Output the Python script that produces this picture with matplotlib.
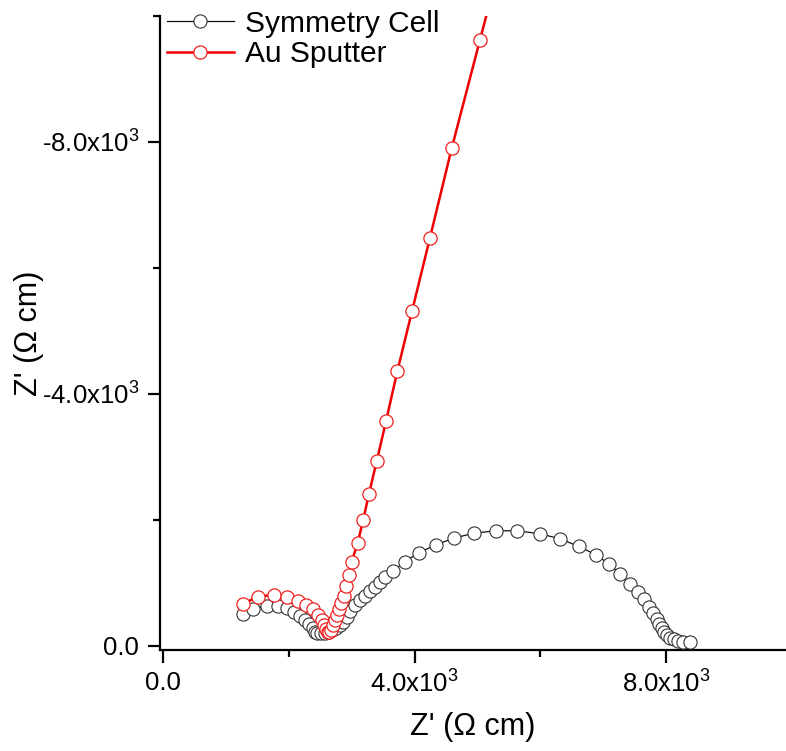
import matplotlib
matplotlib.use("Agg")
import matplotlib.pyplot as plt
from matplotlib.ticker import MultipleLocator, FuncFormatter

plt.rcParams['font.family'] = ['Liberation Sans', 'DejaVu Sans']
plt.rcParams['mathtext.fontset'] = 'custom'
plt.rcParams['mathtext.rm'] = 'Liberation Sans'
plt.rcParams['mathtext.it'] = 'Liberation Sans'

# Symmetry Cell: Z' (ohm cm) and Z'' (ohm cm, negative)
sym_zre = [1267, 1436, 1648, 1833, 1976, 2088, 2178, 2262, 2326, 2380, 2417, 2453,
           2510, 2570, 2630, 2690, 2750, 2810, 2866, 2920, 2973, 3052, 3132, 3211,
           3291, 3370, 3450, 3529, 3662, 3847, 4075, 4340, 4626, 4944, 5294, 5633,
           5994, 6312, 6614, 6884, 7096, 7266, 7424, 7546, 7652, 7732, 7795, 7849,
           7891, 7933, 7970, 8008, 8060, 8124, 8192, 8272, 8378]
sym_zim = [-504, -583, -641, -636, -599, -545, -482, -413, -350, -281, -228, -212,
           -205, -210, -228, -255, -290, -330, -380, -466, -561, -652, -731, -795,
           -879, -943, -1022, -1102, -1192, -1340, -1483, -1606, -1712, -1791, -1828, -1828,
           -1781, -1701, -1579, -1447, -1298, -1145, -986, -864, -742, -625, -519, -424,
           -350, -281, -228, -175, -132, -107, -84, -68, -59]

# Au Sputter
au_zre = [1267, 1515, 1765, 1976, 2141, 2273, 2390, 2469, 2523, 2560, 2591, 2628,
          2640, 2670, 2700, 2730, 2765, 2800, 2835, 2875, 2915, 2962, 3000, 3095,
          3180, 3275, 3397, 3545, 3725, 3959, 4245, 4589, 5040, 5560]
au_zim = [-668, -784, -811, -784, -720, -652, -583, -493, -413, -334, -265, -228,
          -215, -260, -330, -410, -495, -585, -685, -800, -950, -1129, -1340, -1633,
          -1992, -2417, -2930, -3566, -4361, -5315, -6482, -7897, -9623, -11600]

series_labels = ["Symmetry Cell", "Au Sputter"]
axis_label = "Z' (\u03a9 cm)"

fig = plt.figure(figsize=(7.86, 7.51), dpi=100)
ax = fig.add_axes([160/786, 1 - 650/751, 1 - 160/786, (650 - 16)/751])

ax.plot(sym_zre, sym_zim, color='#111111', lw=0.9, marker='o', ms=9.5,
        mfc='white', mec='#333333', mew=0.8, label=series_labels[0], zorder=3)
ax.plot(au_zre, au_zim, color='#f00000', lw=1.8, marker='o', ms=9.5,
        mfc='white', mec='#f02020', mew=0.9, label=series_labels[1], zorder=4)

ax.set_xlim(-48, 9905)
ax.set_ylim(64, -10000)

for s in ['top', 'right']:
    ax.spines[s].set_visible(False)
for s in ['left', 'bottom']:
    ax.spines[s].set_linewidth(1.6)

ax.xaxis.set_major_locator(MultipleLocator(4000))
ax.xaxis.set_minor_locator(MultipleLocator(2000))
ax.yaxis.set_major_locator(MultipleLocator(4000))
ax.yaxis.set_minor_locator(MultipleLocator(2000))

def fmt(v, pos):
    if abs(v) < 1e-9:
        return "0.0"
    return "%.1fx10$^{3}$" % (v / 1000.0)

ax.xaxis.set_major_formatter(FuncFormatter(fmt))
ax.yaxis.set_major_formatter(FuncFormatter(fmt))
ax.tick_params(which='major', direction='out', length=9, width=1.6, labelsize=18.5, pad=6)
ax.tick_params(which='minor', direction='out', length=5, width=1.6)

ax.set_xlabel(axis_label, fontsize=22, labelpad=10)
ax.set_ylabel(axis_label, fontsize=22)
ax.yaxis.set_label_coords(-0.185, 0.5)

leg = ax.legend(loc='upper left', bbox_to_anchor=(0.011, 1.01), frameon=False,
                fontsize=21.5, handlelength=2.25, handletextpad=0.35,
                labelspacing=0.08, borderaxespad=0.0, borderpad=0.0)

fig.savefig("out.png", dpi=100)
